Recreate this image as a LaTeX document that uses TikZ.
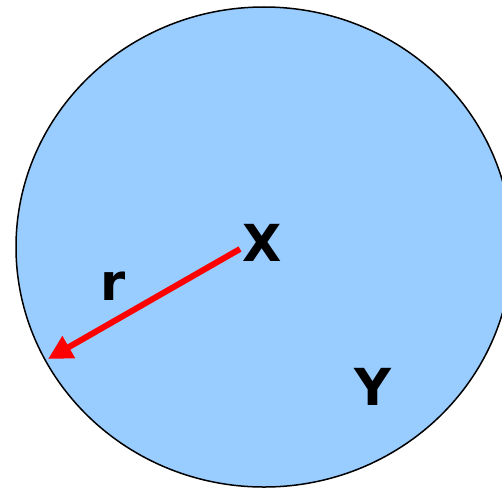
\documentclass[tikz,border=0pt]{standalone}
\usepackage{fontspec}
\setmainfont{DejaVu Sans}
\usepackage{tikz}
\usetikzlibrary{arrows.meta}
\definecolor{SkyBlue}{RGB}{153,204,255}
\definecolor{ArrowRed}{RGB}{255,0,0}

\begin{document}
\begin{tikzpicture}[x=1pt, y=-1pt, >=Latex,
    letter/.style={font=\bfseries\fontsize{51}{51}\selectfont, inner sep=0pt}]
    \useasboundingbox (0,0) rectangle (502,487);

    % Circle
    \draw [line width=1.5pt, fill=SkyBlue] (264,247) ellipse [x radius=248, y radius=240];

    % Radius
    \coordinate (centre) at (240,249);
    \coordinate (rim) at (48,359);
    \draw [ArrowRed, line width=6pt, -{Triangle[length=24pt, width=24pt]}] (centre) -- (rim);

    % Labels
    \node [letter] (x) at (262,243) {X};
    \node [letter] (r) at (113,286) {r};
    \node [letter] (y) at (373,387) {Y};
\end{tikzpicture}
\end{document}
